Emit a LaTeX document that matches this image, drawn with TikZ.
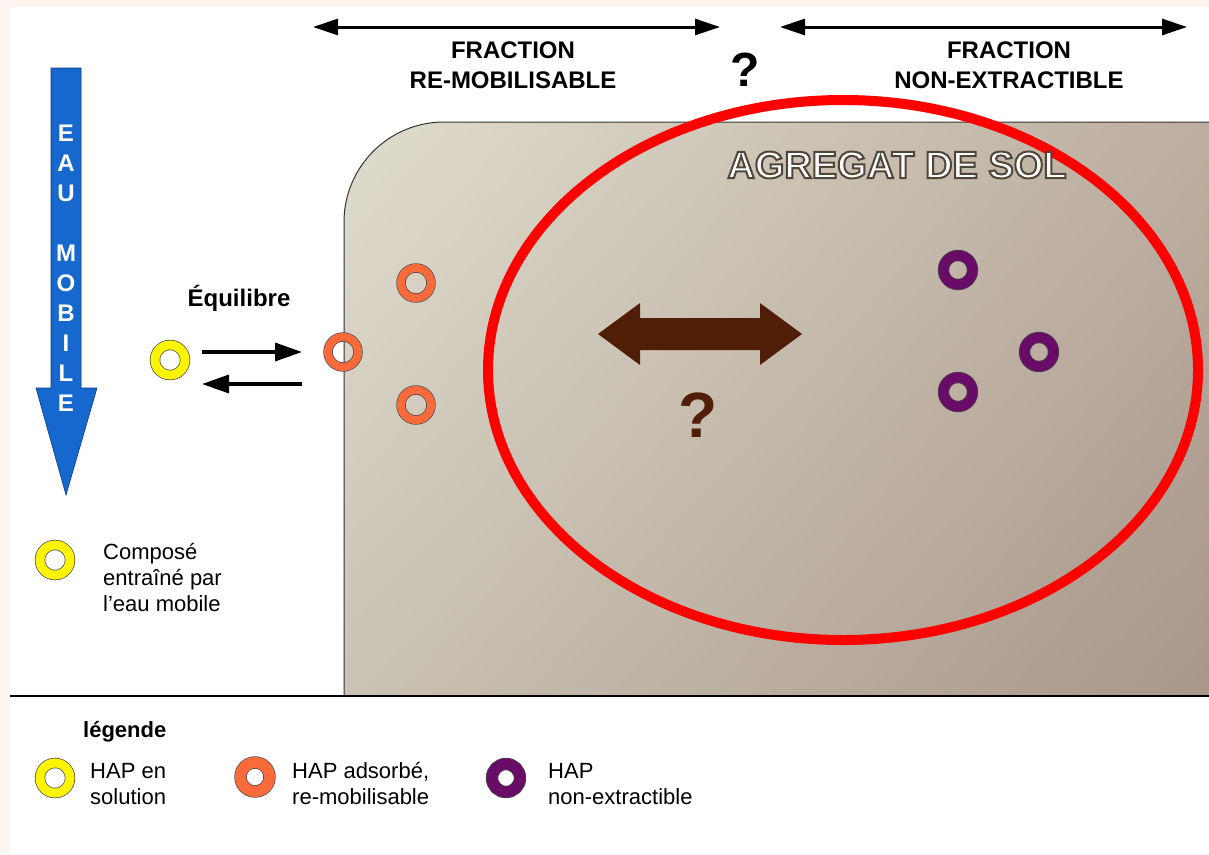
\documentclass[tikz,border=0pt]{standalone}
\usepackage{fontspec}
\setmainfont{Liberation Sans}
\usetikzlibrary{arrows.meta,shadings}

\definecolor{fondrose}{RGB}{252,245,240}
\definecolor{bleueau}{RGB}{22,104,206}
\definecolor{bleufonce}{RGB}{10,60,140}
\definecolor{jaunehap}{RGB}{252,244,0}
\definecolor{orangehap}{RGB}{250,106,58}
\definecolor{violethap}{RGB}{104,12,104}
\definecolor{brunfleche}{RGB}{80,30,6}
\definecolor{rougecercle}{RGB}{255,0,0}
\definecolor{solclair}{RGB}{224,221,206}
\definecolor{solhautdroit}{RGB}{188,174,160}
\definecolor{solbasgauche}{RGB}{202,194,180}
\definecolor{solfonce}{RGB}{168,150,138}

\newcommand{\textecontour}[1]{\special{pdf:code q 2 Tr 2 w 0.31 0.27 0.22 RG}#1\special{pdf:code Q}}

\begin{document}
\begin{tikzpicture}[x=1pt,y=-1pt,
    >={Triangle[length=25pt,width=16pt]},
    anneau/.style={circle,inner sep=0pt,minimum size=30pt,draw=black!70,line width=0.7pt,double distance=9pt},
    hapsol/.style={anneau,double=jaunehap},
    hapads/.style={anneau,double=orangehap,double distance=8pt},
    hapne/.style={anneau,double=violethap,minimum size=29pt,double distance=10pt},
    titre/.style={font=\bfseries\fontsize{24}{30}\selectfont,align=center,inner sep=0pt},
    legende/.style={font=\fontsize{22}{26}\selectfont,align=left,inner sep=0pt,anchor=north west}]

    \useasboundingbox (0,0) rectangle (1209,854);
    \fill[fondrose] (0,0) rectangle (1209,854);
    \fill[white] (10,7) rectangle (1209,854);

    % agregat de sol
    \shadedraw[upper left=solclair, upper right=solhautdroit, lower left=solbasgauche, lower right=solfonce, draw=black!80, line width=1pt]
        (1209,696) -- (344,696) -- (344,222) arc[start angle=180,end angle=270,radius=100] -- (1209,122);
    \draw[line width=1.2pt] (10,696) -- (1209,696);
    \draw[rougecercle, line width=10pt] (843,370) ellipse[x radius=355, y radius=270];
    \node[font=\bfseries\fontsize{38}{38}\selectfont, text=white] (agregat) at (897,165) {\textecontour{AGREGAT DE SOL}};

    % eau mobile
    \filldraw[fill=bleueau, draw=bleufonce, line width=0.6pt] (51,68) -- (81,68) -- (81,388) -- (97,388) -- (66,495) -- (36,388) -- (51,388) -- cycle;
    \foreach \l [count=\i] in {E,A,U,{},M,O,B,I,L,E}
        \node[font=\bfseries\fontsize{24}{24}\selectfont, text=white] (lettre\i) at (66,103+30*\i) {\l};

    % fractions
    \coordinate (remG) at (313,27);
    \coordinate (remD) at (720,27);
    \coordinate (neG) at (780,27);
    \coordinate (neD) at (1187,27);
    \draw[<->, line width=3pt] (remG) -- (remD);
    \draw[<->, line width=3pt] (neG) -- (neD);
    \node[titre] (fracrem) at (513,65) {FRACTION\\RE-MOBILISABLE};
    \node[titre] (fracne) at (1009,65) {FRACTION\\NON-EXTRACTIBLE};
    \node[font=\bfseries\fontsize{48}{48}\selectfont, inner sep=0pt] (questhaut) at (745,70) {?};

    % equilibre
    \node[font=\bfseries\fontsize{24}{28}\selectfont, anchor=base, inner sep=0pt] (equilibre) at (239,306) {Équilibre};
    \node[hapsol] (sol) at (170,360) {};
    \node[hapads] (ads1) at (343,352) {};
    \node[hapads] (ads2) at (416,283) {};
    \node[hapads] (ads3) at (416,405) {};
    \coordinate (eqHautG) at (202,352);
    \coordinate (eqHautD) at (302,352);
    \coordinate (eqBasD) at (302,384);
    \coordinate (eqBasG) at (202,384);
    \draw[->, line width=3.5pt, >={Triangle[length=27pt,width=18pt]}] (eqHautG) -- (eqHautD);
    \draw[->, line width=3.5pt, >={Triangle[length=27pt,width=18pt]}] (eqBasD) -- (eqBasG);

    % non extractible
    \node[hapne] (ne1) at (958,270) {};
    \node[hapne] (ne2) at (958,392) {};
    \node[hapne] (ne3) at (1039,352) {};
    \fill[brunfleche] (598,334) -- (640,303) -- (640,318) -- (760,318) -- (760,303) -- (802,334)
        -- (760,365) -- (760,350) -- (640,350) -- (640,365) -- cycle;
    \node[font=\bfseries\fontsize{64}{64}\selectfont, text=brunfleche, inner sep=0pt] (questbas) at (698,415) {?};

    % legende
    \node[hapsol] (legmobile) at (55,560) {};
    \node[legende] (txtmobile) at (103,543) {Composé\\entraîné par\\l'eau mobile};
    \node[font=\bfseries\fontsize{22}{26}\selectfont, anchor=base west, inner sep=0pt] (titrelegende) at (83,737) {légende};
    \node[hapsol] (legsol) at (55,778) {};
    \node[legende] (txtsol) at (90,763) {HAP en\\solution};
    \node[hapads, minimum size=29pt, double distance=11pt] (legads) at (255,777) {};
    \node[legende] (txtads) at (292,762) {HAP adsorbé,\\re-mobilisable};
    \node[hapne, minimum size=28pt, double distance=11pt] (legne) at (506,778) {};
    \node[legende] (txtne) at (548,763) {HAP\\non-extractible};

\end{tikzpicture}
\end{document}
